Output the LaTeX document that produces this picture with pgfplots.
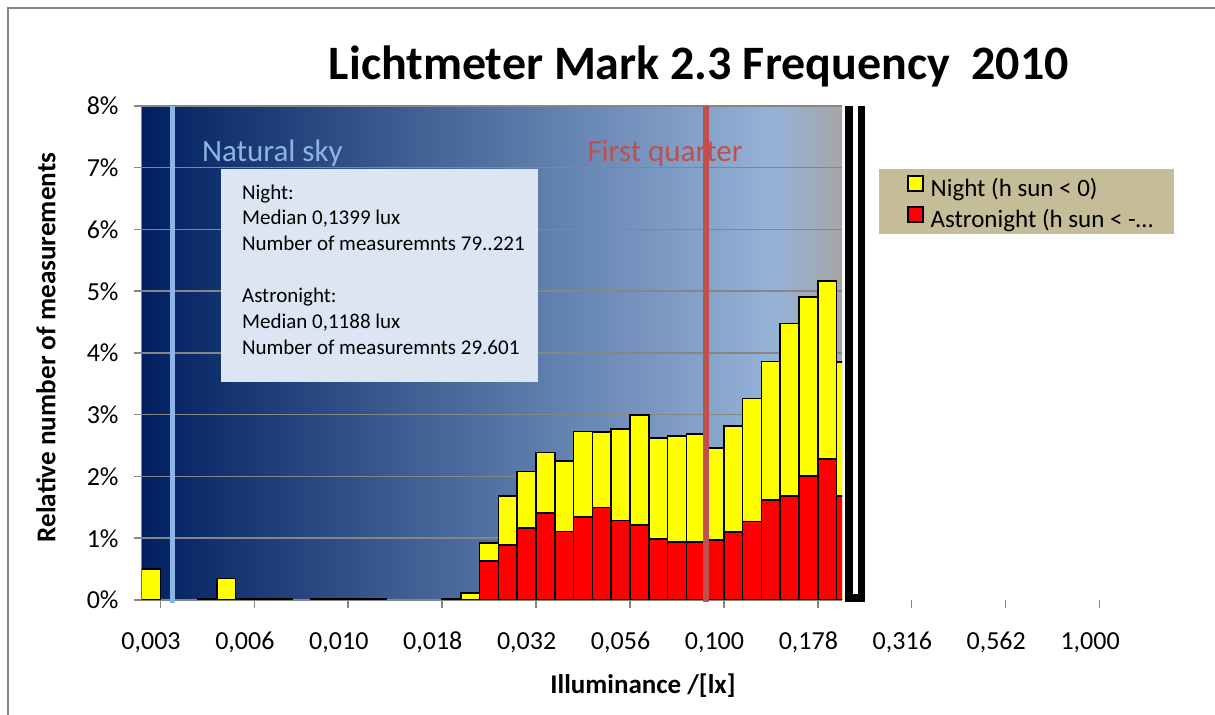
\documentclass[border=0pt]{standalone}
\usepackage{fontspec}
\setmainfont{Carlito}
\usepackage{pgfplots}
\pgfplotsset{compat=1.18}

\definecolor{navy}{RGB}{0,32,96}
\definecolor{skylight}{RGB}{149,179,215}
\definecolor{skygray}{RGB}{166,166,166}
\definecolor{gridgray}{RGB}{134,134,134}
\definecolor{natsky}{RGB}{141,180,226}
\definecolor{fq}{RGB}{192,80,77}
\definecolor{boxfill}{RGB}{220,230,242}
\definecolor{legfill}{RGB}{196,189,151}
\definecolor{ylw}{RGB}{255,255,0}
\definecolor{rd}{RGB}{255,0,0}
\pgfdeclarehorizontalshading{sky}{100bp}{color(0bp)=(navy); color(25bp)=(navy); color(70bp)=(skylight); color(75bp)=(skygray); color(100bp)=(skygray)}

\newcommand{\ticklab}{\fontsize{13}{15}\selectfont}

\begin{document}
\begin{tikzpicture}[x=1pt,y=1pt]
\useasboundingbox (0,0) rectangle (607.5,357.5);
\draw[gridgray, line width=1pt] (4,0) -- (4,353.5) -- (607.5,353.5);
\fill[legfill] (439.5,240.5) rectangle (587,273);
\begin{axis}[
  at={(70.8pt,57.5pt)}, anchor=south west,
  scale only axis, width=350.2pt, height=247pt,
  xmin=0.5, xmax=37.79, ymin=0, ymax=8,
  clip mode=individual,
  axis x line*=bottom, axis y line*=left,
  axis line style={gridgray, line width=0.75pt, -},
  ymajorgrids, grid style={gridgray, line width=0.75pt},
  xtick={1.5,6.5,11.5,16.5,21.5,26.5,31.5,36.5}, xticklabels={},
  ytick={0,1,2,3,4,5,6,7,8}, yticklabels={0\%,1\%,2\%,3\%,4\%,5\%,6\%,7\%,8\%},
  tick align=outside, major tick length=4pt,
  tick style={gridgray, line width=0.75pt},
  yticklabel style={font=\ticklab, anchor=east, xshift=-4pt},
  axis background/.style={shade, shading=sky},
  legend style={at={(1.0924,0.8609)}, anchor=north west, fill=none, draw=none,
    inner sep=0pt, row sep=1.6pt, font=\fontsize{12.5}{15}\selectfont,
    nodes={inner sep=0pt, text height=9pt, text depth=3pt},
    /tikz/every odd column/.append style={column sep=3.5pt}},
  legend cell align=left,
  legend image code/.code={\draw[#1, line width=0.75pt] (0pt,0pt) rectangle (7.5pt,7.5pt);},
]
\addplot[ybar, bar width=1, bar shift=0pt, fill=ylw, draw=black, line width=0.8pt] coordinates {
(1,0.50) (4,0.012) (5,0.35) (6,0.012) (7,0.012) (8,0.012) (10,0.02) (11,0.02) (12,0.012) (13,0.012)
(17,0.02) (18,0.11) (19,0.92) (20,1.68) (21,2.08) (22,2.39) (23,2.25) (24,2.73) (25,2.72) (26,2.77)
(27,3.00) (28,2.62) (29,2.66) (30,2.69) (31,2.46) (32,2.82) (33,3.26) (34,3.86) (35,4.48) (36,4.91)
(37,5.17) (38,3.85)};
\addlegendentry{Night (h sun < 0)}
\addplot[ybar, bar width=1, bar shift=0pt, fill=rd, draw=black, line width=0.8pt] coordinates {
(19,0.63) (20,0.89) (21,1.17) (22,1.41) (23,1.11) (24,1.34) (25,1.50) (26,1.29) (27,1.21) (28,0.99)
(29,0.94) (30,0.94) (31,0.97) (32,1.10) (33,1.27) (34,1.62) (35,1.68) (36,2.01) (37,2.28) (38,1.68)};
\addlegendentry{Astronight (h sun < -…}
\draw[natsky, line width=2.5pt] (axis cs:2.12,-0.05) -- (axis cs:2.12,8);
\draw[fq, line width=3pt] (axis cs:30.55,-0.03) -- (axis cs:30.55,8);
\draw[black, line width=3.75pt] (axis cs:38.16,8) -- (axis cs:38.16,0.03) -- (axis cs:38.84,0.03) -- (axis cs:38.84,8);
\pgfplotsinvokeforeach{41.5,46.5,51.5}{\draw[gridgray, line width=0.75pt] (axis cs:#1,0) -- ++(0pt,-4pt);}
\node[anchor=base, yshift=-24.65pt, font=\ticklab] at (axis cs:1,0) {0,003};
\node[anchor=base, yshift=-24.65pt, font=\ticklab] at (axis cs:6,0) {0,006};
\node[anchor=base, yshift=-24.65pt, font=\ticklab] at (axis cs:11,0) {0,010};
\node[anchor=base, yshift=-24.65pt, font=\ticklab] at (axis cs:16,0) {0,018};
\node[anchor=base, yshift=-24.65pt, font=\ticklab] at (axis cs:21,0) {0,032};
\node[anchor=base, yshift=-24.65pt, font=\ticklab] at (axis cs:26,0) {0,056};
\node[anchor=base, yshift=-24.65pt, font=\ticklab] at (axis cs:31,0) {0,100};
\node[anchor=base, yshift=-24.65pt, font=\ticklab] at (axis cs:36,0) {0,178};
\node[anchor=base, yshift=-24.65pt, font=\ticklab] at (axis cs:41,0) {0,316};
\node[anchor=base, yshift=-24.65pt, font=\ticklab] at (axis cs:46,0) {0,562};
\node[anchor=base, yshift=-24.65pt, font=\ticklab] at (axis cs:51,0) {1,000};
\end{axis}
\fill[boxfill] (110.35,166.65) rectangle (269,273.15);
\begin{scope}[every node/.style={anchor=base west, inner sep=0pt, font=\fontsize{10.5}{13}\selectfont}]
\node at (120.85,257.85) {Night:};
\node at (120.85,245) {Median 0,1399 lux};
\node at (120.85,232) {Number of measuremnts 79..221};
\node at (120.85,206) {Astronight:};
\node at (120.85,193) {Median 0,1188 lux};
\node at (120.85,180) {Number of measuremnts 29.601};
\end{scope}
\node[anchor=base west, inner sep=0pt, text=natsky, font=\fontsize{15.5}{18}\selectfont] at (100.85,276.65) {Natural sky};
\node[anchor=base west, inner sep=0pt, text=fq, font=\fontsize{15.5}{18}\selectfont] at (293.5,276.65) {First quarter};
\node[anchor=base, inner sep=0pt, font=\bfseries\fontsize{24}{28}\selectfont] at (349.5,317.5) {Lichtmeter Mark 2.3 Frequency\ \ 2010};
\node[anchor=base, inner sep=0pt, rotate=90, font=\bfseries\fontsize{13.6}{16}\selectfont] at (27.75,183.75) {Relative number of measurements};
\node[anchor=base, inner sep=0pt, font=\bfseries\fontsize{13.5}{16}\selectfont] at (321.5,10.5) {Illuminance /[lx]};
\end{tikzpicture}
\end{document}
